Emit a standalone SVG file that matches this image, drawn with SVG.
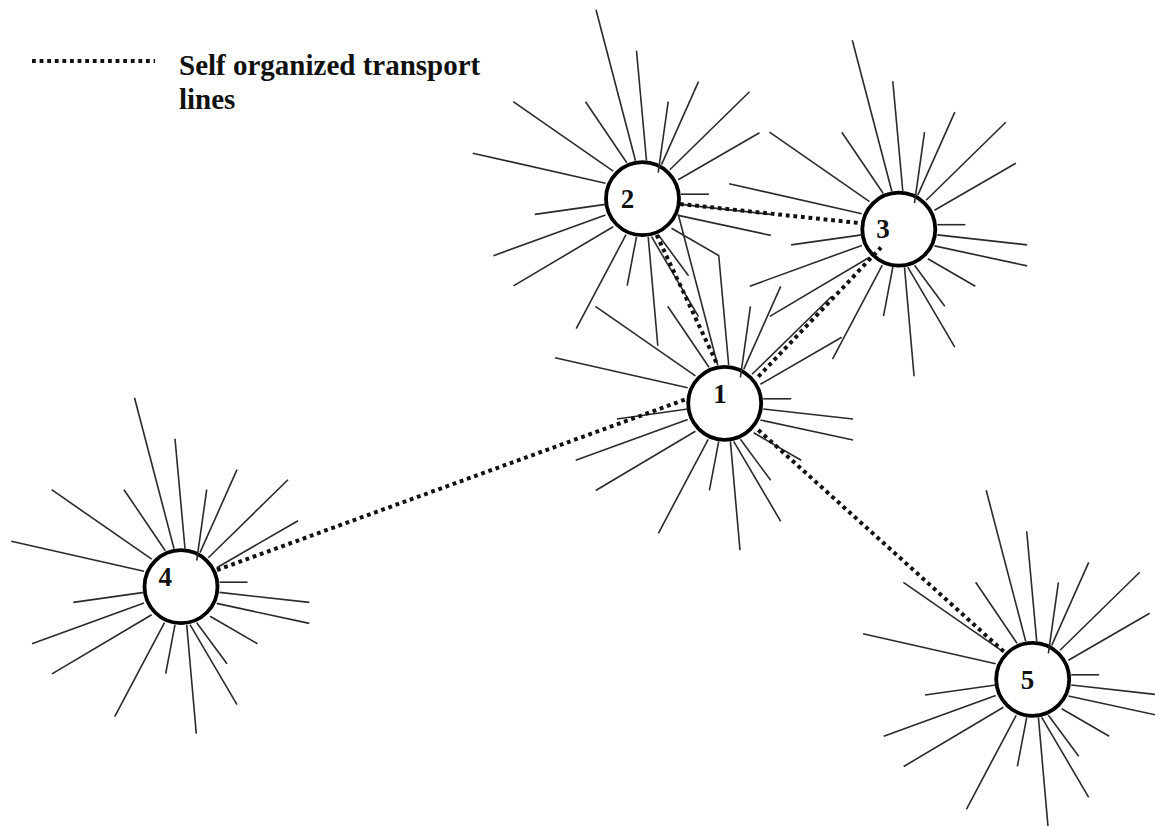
<svg xmlns="http://www.w3.org/2000/svg" xmlns:xlink="http://www.w3.org/1999/xlink" width="1155" height="826" viewBox="0 0 1155 826">
<style>
.sp line{stroke:#2a2a2a;stroke-width:1.6;stroke-linecap:butt}
.ring{fill:#fff;stroke:#000;stroke-width:3.8}
.lbl{font-family:"Liberation Serif","Times New Roman",serif;font-weight:bold;font-size:27px;fill:#111;text-anchor:middle}
.dot{fill:none;stroke:#111;stroke-width:4;stroke-dasharray:3.8 3.8}
.leg{font-family:"Liberation Serif","Times New Roman",serif;font-weight:bold;font-size:29px;fill:#111}
</style>
<defs>
<g id="star" class="sp">
<line x1="-7" y1="-38" x2="-46.5" y2="-189"/>
<line x1="4" y1="-38" x2="-6" y2="-148"/>
<line x1="-29.3" y1="-27.5" x2="-129.3" y2="-97"/>
<line x1="-15.7" y1="-36" x2="-57" y2="-97"/>
<line x1="-37" y1="-15.5" x2="-169.7" y2="-45.5"/>
<line x1="15.7" y1="-26" x2="25.7" y2="-97"/>
<line x1="19" y1="-34" x2="56" y2="-117"/>
<line x1="27.3" y1="-29" x2="107" y2="-107"/>
<line x1="35.7" y1="-19" x2="117" y2="-66"/>
<line x1="38.5" y1="-4.5" x2="66.5" y2="-4.5"/>
<line x1="38.5" y1="5.7" x2="128.3" y2="15.7"/>
<line x1="35.7" y1="16.7" x2="128.3" y2="36.7"/>
<line x1="29" y1="29.5" x2="76.5" y2="57"/>
<line x1="15.7" y1="36" x2="46" y2="77"/>
<line x1="9" y1="38" x2="56" y2="118"/>
<line x1="5.7" y1="38" x2="15.3" y2="147"/>
<line x1="-6" y1="38" x2="-15.3" y2="87"/>
<line x1="-16.5" y1="36" x2="-66.3" y2="130"/>
<line x1="-29.3" y1="28" x2="-129" y2="87.2"/>
<line x1="-37" y1="16.2" x2="-149" y2="57"/>
<line x1="-37" y1="5.7" x2="-107.7" y2="15.7"/>
</g>
</defs>
<rect width="1155" height="826" fill="#fff"/>
<g id="legend">
<line class="dot" x1="32" y1="61" x2="155" y2="61"/>
<text class="leg" x="179" y="74.5">Self organized transport</text>
<text class="leg" x="179" y="108.5">lines</text>
</g>
<g id="node1">
<circle class="ring" cx="724.7" cy="403.3" r="36.5"/>
<use xlink:href="#star" transform="translate(724.7 403.3)"/>
<text class="lbl" x="720" y="402.5">1</text>
</g>
<g id="node2">
<circle class="ring" cx="642.5" cy="198.7" r="36.5"/>
<use xlink:href="#star" transform="translate(642.5 198.7)"/>
<text class="lbl" x="627.5" y="207.5">2</text>
</g>
<g id="node3">
<circle class="ring" cx="898.8" cy="229.2" r="36.5"/>
<use xlink:href="#star" transform="translate(898.8 229.2)"/>
<text class="lbl" x="883" y="237.5">3</text>
</g>
<g id="node4">
<circle class="ring" cx="181" cy="586.7" r="36.5"/>
<use xlink:href="#star" transform="translate(181 586.7)"/>
<text class="lbl" x="165.3" y="585.5">4</text>
</g>
<g id="node5">
<circle class="ring" cx="1032.7" cy="679.3" r="36.5"/>
<use xlink:href="#star" transform="translate(1032.7 679.3)"/>
<text class="lbl" x="1027.5" y="688.5">5</text>
</g>
<g id="connectors">
<line class="dot" x1="217" y1="570" x2="688" y2="398.5"/>
<line class="dot" x1="758.3" y1="430" x2="1004" y2="651.7"/>
<line class="dot" x1="656.7" y1="235" x2="716.7" y2="363.3"/>
<line class="dot" x1="758.3" y1="376.7" x2="881" y2="247.5"/>
<line class="dot" x1="680" y1="204" x2="861.7" y2="223.3"/>
</g>
</svg>
